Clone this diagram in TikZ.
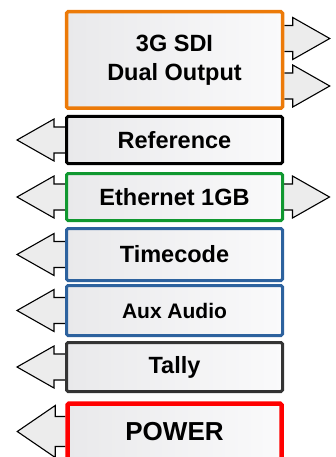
\documentclass[tikz,border=0pt]{standalone}
\usepackage{fontspec}
\setmainfont{Liberation Sans}
\usepackage{tikz}
\usepackage{xcolor}
\usetikzlibrary{backgrounds}

\definecolor{boxleft}{RGB}{233,233,235}
\definecolor{boxright}{RGB}{250,250,251}
\definecolor{arrowfill}{RGB}{236,236,236}
\definecolor{sdiorange}{RGB}{236,122,8}
\definecolor{ethgreen}{RGB}{16,152,48}
\definecolor{portblue}{RGB}{45,98,158}
\definecolor{tallygray}{RGB}{52,52,52}

\tikzset{
  portbox/.style={draw, line width=3pt, rounded corners=1.5pt, left color=boxleft, right color=boxright, minimum width=216pt, inner sep=0pt, align=center, font=\bfseries\fontsize{23.5}{29}\selectfont},
  portarrow/.style={draw=black, line width=1.1pt, fill=arrowfill, line join=miter}
}

\begin{document}
\begin{tikzpicture}[x=1pt,y=1pt,yscale=-1.,xscale=1.]
    \useasboundingbox (0,0) rectangle (336,457); %same size as the reference
    \clip (0,0) rectangle (336,457);

    %Shape: Rectangle [3G SDI]
    \node (sdi) at (174.5,60) [portbox, draw=sdiorange, line width=3.5pt, minimum height=96.5pt] {3G SDI\\Dual Output};
    %Shape: Rectangle [Reference]
    \node (ref) at (174.5,140) [portbox, draw=black, minimum height=47pt] {Reference};
    %Shape: Rectangle [Ethernet]
    \node (eth) at (174.5,197) [portbox, draw=ethgreen, minimum height=47pt] {Ethernet 1GB};
    %Shape: Rectangle [Timecode]
    \node (tc) at (174.5,254.5) [portbox, draw=portblue, minimum height=52pt] {Timecode};
    %Shape: Rectangle [Aux Audio]
    \node (aux) at (174.5,310.5) [portbox, draw=portblue, minimum height=50pt, font=\bfseries\fontsize{21}{25}\selectfont] {Aux Audio};
    %Shape: Rectangle [Tally]
    \node (tally) at (174.5,367) [portbox, draw=tallygray, minimum height=49pt] {Tally};
    %Shape: Rectangle [Power]
    \node (power) at (174.5,431.5) [portbox, draw=red, line width=4.5pt, minimum width=214pt, minimum height=56pt, font=\bfseries\fontsize{26}{30}\selectfont] {POWER};

    \begin{scope}[on background layer]
    %Shape: Right Arrow [outputs]
    \draw [portarrow] (sdi.east) ++(0,-34.5) -- ++(8.5,0) -- ++(0,-8) -- ++(37,21) -- ++(-37,21) -- ++(0,-8) -- ++(-8.5,0) ;
    \draw [portarrow] (sdi.east) ++(0,13) -- ++(8.5,0) -- ++(0,-8) -- ++(37,21) -- ++(-37,21) -- ++(0,-8) -- ++(-8.5,0) ;
    \draw [portarrow] (eth.east) ++(0,-13) -- ++(8.5,0) -- ++(0,-8) -- ++(37,21) -- ++(-37,21) -- ++(0,-8) -- ++(-8.5,0) ;
    %Shape: Left Arrow [inputs]
    \draw [portarrow] (ref.west) ++(0,-13) -- ++(-11,0) -- ++(0,-8) -- ++(-37,21) -- ++(37,21) -- ++(0,-8) -- ++(11,0) ;
    \draw [portarrow] (eth.west) ++(0,-13) -- ++(-11,0) -- ++(0,-8) -- ++(-37,21) -- ++(37,21) -- ++(0,-8) -- ++(11,0) ;
    \draw [portarrow] (tc.west) ++(0,-13) -- ++(-11,0) -- ++(0,-8) -- ++(-37,21) -- ++(37,21) -- ++(0,-8) -- ++(11,0) ;
    \draw [portarrow] (aux.west) ++(0,-13) -- ++(-11,0) -- ++(0,-8) -- ++(-37,21) -- ++(37,21) -- ++(0,-8) -- ++(11,0) ;
    \draw [portarrow] (tally.west) ++(0,-13) -- ++(-11,0) -- ++(0,-8) -- ++(-37,21) -- ++(37,21) -- ++(0,-8) -- ++(11,0) ;
    \draw [portarrow] (power.west) ++(0,-15) -- ++(-10,0) -- ++(0,-11) -- ++(-38,26) -- ++(38,26) -- ++(0,-11) -- ++(10,0) ;
    \end{scope}

\end{tikzpicture}
\end{document}
